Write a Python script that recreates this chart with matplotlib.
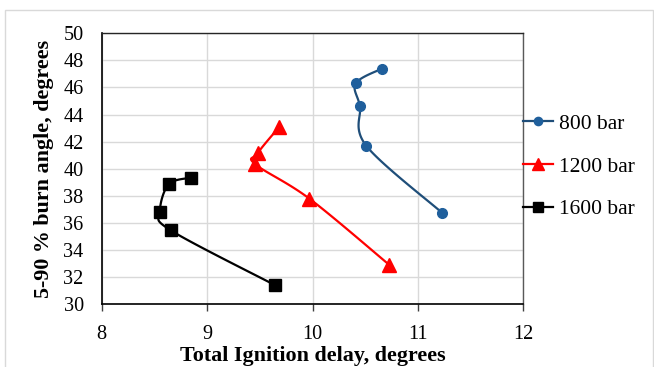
import numpy as np
import matplotlib
matplotlib.use("Agg")
import matplotlib.pyplot as plt
from matplotlib.patches import Rectangle

# ---- data ----
labels = ["800 bar", "1200 bar", "1600 bar"]
delay_800 = [10.66, 10.41, 10.45, 10.51, 11.23]
angle_800 = [47.4, 46.3, 44.6, 41.7, 36.75]
delay_1200 = [9.68, 9.48, 9.455, 9.97, 10.73]
angle_1200 = [43.05, 41.15, 40.35, 37.8, 32.9]
delay_1600 = [8.85, 8.635, 8.553, 8.657, 9.647]
angle_1600 = [39.35, 38.85, 36.8, 35.45, 31.4]
xticks = [8, 9, 10, 11, 12]
yticks = list(range(30, 51, 2))

plt.rcParams['font.family'] = ['Liberation Serif', 'DejaVu Serif']

fig = plt.figure(figsize=(6.54, 3.67), dpi=100)
W, H = 654, 367
ax = fig.add_axes([101.7 / W, 1 - 304.3 / H, (523.3 - 101.7) / W, (304.3 - 33.3) / H])
ax.set_xlim(8, 12)
ax.set_ylim(30, 50)


def smooth(ax, xs, ys, n=30):
    """Excel-like smoothed line (Catmull-Rom / Bezier) computed in display space."""
    pts = ax.transData.transform(np.column_stack([xs, ys]))
    P = np.vstack([pts[0], pts, pts[-1]])
    out = []
    t = np.linspace(0, 1, n)[:, None]
    for i in range(1, len(P) - 2):
        p0, p1, p2, p3 = P[i - 1], P[i], P[i + 1], P[i + 2]
        c1 = p1 + (p2 - p0) / 6
        c2 = p2 - (p3 - p1) / 6
        seg = ((1 - t) ** 3) * p1 + 3 * ((1 - t) ** 2) * t * c1 + 3 * (1 - t) * t ** 2 * c2 + t ** 3 * p2
        out.append(seg)
    out = np.vstack(out)
    d = ax.transData.inverted().transform(out)
    return d[:, 0], d[:, 1]


series = [
    (delay_800, angle_800, '#1f4e79', '#1f5f9c', 'o', 7),
    (delay_1200, angle_1200, '#ff0000', '#ff0000', '^', 10),
    (delay_1600, angle_1600, '#000000', '#000000', 's', 8),
]
handles = []
for (xs, ys, lc, mc, mk, ms), lab in zip(series, labels):
    sx, sy = smooth(ax, xs, ys)
    ax.plot(sx, sy, color=lc, lw=1.6, zorder=3, solid_capstyle='round')
    ax.plot(xs, ys, linestyle='none', marker=mk, markersize=ms, color=mc, zorder=4)
    h, = ax.plot([], [], color=lc, lw=1.6, marker=mk, markersize=ms * 0.85,
                 markerfacecolor=mc, markeredgecolor=mc, label=lab)
    handles.append(h)

ax.set_xticks(xticks)
ax.set_yticks(yticks)
ax.grid(True, color='#d9d9d9', lw=1.0, zorder=0)
ax.set_axisbelow(True)
ax.tick_params(axis='x', length=5, width=1, color='#404040', pad=10, labelsize=14.6)
ax.tick_params(axis='y', length=0, pad=13, labelsize=14.6)
for s in ['left', 'bottom']:
    ax.spines[s].set_color('#000000')
    ax.spines[s].set_linewidth(1.2)
ax.spines['top'].set_color('#262626')
ax.spines['top'].set_linewidth(1.0)
ax.spines['right'].set_color('#595959')
ax.spines['right'].set_linewidth(1.0)

ax.set_xlabel('Total Ignition delay, degrees', fontsize=15.8, fontweight='bold')
ax.xaxis.set_label_coords(0.5, (304.3 - 346.5) / 271.0)
ax.set_ylabel('5-90 % burn angle, degrees', fontsize=15.8, fontweight='bold')
ax.yaxis.label.set_verticalalignment('center')
ax.yaxis.set_label_coords((44 - 101.7) / 421.6, 0.5)

fig.legend(handles=handles, loc='center left',
           bbox_to_anchor=(523.3 / W, 1 - 166.5 / H), bbox_transform=fig.transFigure,
           frameon=False, fontsize=15.5, borderpad=0, borderaxespad=0,
           handlelength=1.4, handletextpad=0.25, labelspacing=1.05)

fig.patches.append(Rectangle((5 / W, -0.05), (652.5 - 5) / W, 1.05 - 10 / H,
                             transform=fig.transFigure, fill=False,
                             edgecolor='#d9d9d9', lw=1.0, zorder=-1))

fig.savefig('out.png', dpi=100)
